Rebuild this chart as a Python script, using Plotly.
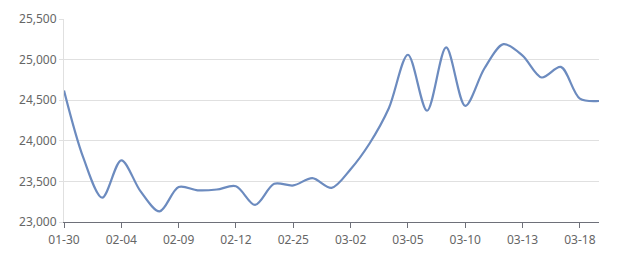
import plotly.graph_objects as go

dates = ["01-30", "02-01", "02-03", "02-04", "02-05", "02-08", "02-09", "02-10",
         "02-11", "02-12", "02-22", "02-23", "02-25", "02-26", "03-01", "03-02",
         "03-03", "03-04", "03-05", "03-08", "03-09", "03-10", "03-11", "03-12",
         "03-13", "03-15", "03-16", "03-18", "03-19"]
prices = [24620, 23800, 23300, 23760, 23380, 23130, 23430, 23390,
          23400, 23440, 23210, 23470, 23450, 23540, 23420, 23650,
          23970, 24400, 25060, 24370, 25150, 24430, 24890, 25190,
          25050, 24780, 24910, 24520, 24490]
tick_labels = dates[::3]
y_ticks = [23000, 23500, 24000, 24500, 25000, 25500]

fig = go.Figure()
fig.add_trace(go.Scatter(
    x=dates, y=prices, mode="lines",
    line=dict(color="#6c8bbf", width=2.2, shape="spline", smoothing=0.9),
    hoverinfo="x+y",
))

fig.update_layout(
    width=640, height=270,
    margin=dict(l=64, r=41, t=10, b=48),
    paper_bgcolor="white", plot_bgcolor="white",
    showlegend=False,
    font=dict(family="Noto Sans, DejaVu Sans, sans-serif", size=12, color="#666666"),
)
fig.update_xaxes(
    type="category", range=[0, len(dates) - 1],
    tickmode="array", tickvals=tick_labels, ticktext=tick_labels,
    showgrid=False, showline=True, linecolor="#6e7079", linewidth=1,
    ticks="outside", ticklen=5, tickcolor="#6e7079",
    ticklabelstandoff=2,
    tickfont=dict(size=12, color="#666666"), zeroline=False,
)
fig.update_yaxes(
    range=[23000, 25500], tickmode="array", tickvals=y_ticks,
    tickformat=",d",
    showgrid=True, gridcolor="#e0e0e0", gridwidth=1,
    showline=True, linecolor="#e0e0e0",
    ticks="outside", ticklen=4, tickcolor="#e0e0e0",
    tickfont=dict(size=12, color="#666666"), zeroline=False,
)

fig.write_html("out.html")
